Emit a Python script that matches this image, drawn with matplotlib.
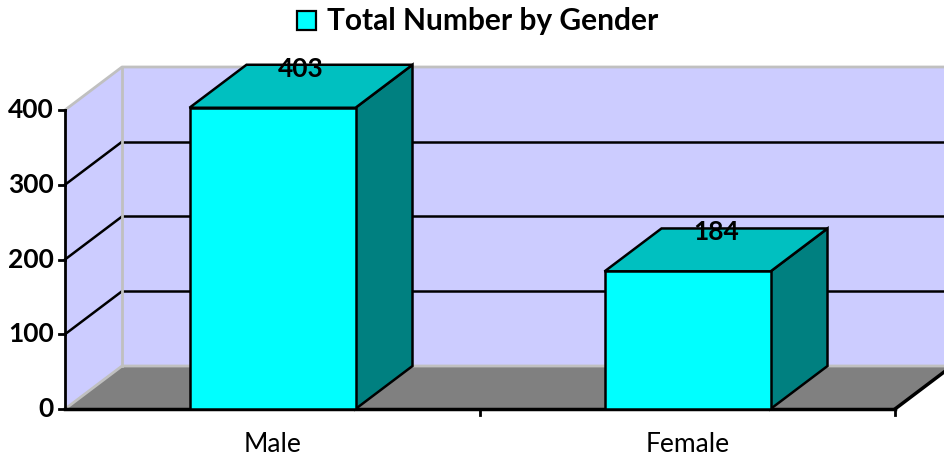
import matplotlib
matplotlib.use("Agg")
import matplotlib.pyplot as plt
from matplotlib.patches import Polygon, Rectangle

plt.rcParams['font.family'] = ['Lato', 'DejaVu Sans']

categories = ["Male", "Female"]
values = [403, 184]
yticks = [0, 100, 200, 300, 400]
title = "Total Number by Gender"

# colours
FRONT = "#00FFFF"
TOP = "#00C0C0"
SIDE = "#008080"
WALL = "#CCCCFF"
FLOOR = "#808080"
EDGE_GRAY = "#C0C0C0"

fig = plt.figure(figsize=(9.45, 4.57), dpi=100)
ax = fig.add_axes([0, 0, 1, 1])
ax.set_axis_off()

px_per_cat = 415.0
px_per_val = 0.7475
x_left_px = 65.0
y0_px = 409.0
W, H = 945.0, 457.0
x0 = -0.5
x1 = x0 + len(categories)
ax.set_xlim(x0 - x_left_px / px_per_cat, x0 + (W - x_left_px) / px_per_cat)
ax.set_ylim(-(H - y0_px) / px_per_val, y0_px / px_per_val)

dx = 57 / px_per_cat
dy = 43 / px_per_val
ymax = yticks[-1]

# walls and floor
ax.add_patch(Polygon([(x0 + dx, dy), (x1 + dx, dy), (x1 + dx, ymax + dy), (x0 + dx, ymax + dy)],
                     closed=True, facecolor=WALL, edgecolor='none', zorder=1))
ax.add_patch(Polygon([(x0, 0), (x0 + dx, dy), (x0 + dx, ymax + dy), (x0, ymax)],
                     closed=True, facecolor=WALL, edgecolor='none', zorder=1))
ax.add_patch(Polygon([(x0, 0), (x1, 0), (x1 + dx, dy), (x0 + dx, dy)],
                     closed=True, facecolor=FLOOR, edgecolor='none', zorder=1))

# gridlines
for v in yticks[1:-1]:
    ax.plot([x0 + dx, x1 + dx], [v + dy, v + dy], color='black', lw=1.8, zorder=2)
    ax.plot([x0, x0 + dx], [v, v + dy], color='black', lw=1.8, zorder=2)

# gray wall edges
ax.plot([x0, x0 + dx, x1 + dx], [ymax, ymax + dy, ymax + dy], color=EDGE_GRAY, lw=2, zorder=2)
ax.plot([x0 + dx, x0 + dx], [dy, ymax + dy], color=EDGE_GRAY, lw=2, zorder=2)
ax.plot([x0, x0 + dx, x1 + dx], [0, dy, dy], color=EDGE_GRAY, lw=2, zorder=2)

# axes lines
ax.plot([x0, x0], [0, ymax], color='black', lw=2, zorder=3)
ax.plot([x0, x1], [0, 0], color='black', lw=2.5, zorder=3)
ax.plot([x1, x1 + dx], [0, dy], color='black', lw=2.5, zorder=3)
tick_len_x = 6 / px_per_cat
for v in yticks:
    ax.plot([x0 - tick_len_x, x0], [v, v], color='black', lw=2, zorder=3)
    ax.text(x0 - 11 / px_per_cat, v, str(v), ha='right', va='center',
            fontsize=19, fontweight='bold', zorder=5)
tick_len_y = 6 / px_per_val
for i in range(len(categories)):
    xb = x0 + i + 1
    ax.plot([xb, xb], [0, -tick_len_y], color='black', lw=2, zorder=3)

# bars
bw = 0.40
for i, (c, v) in enumerate(zip(categories, values)):
    l, r = i - bw / 2, i + bw / 2
    ax.add_patch(Polygon([(r, 0), (r + dx, dy), (r + dx, v + dy), (r, v)],
                         closed=True, facecolor=SIDE, edgecolor='black', lw=1.8, zorder=4))
    ax.add_patch(Polygon([(l, v), (r, v), (r + dx, v + dy), (l + dx, v + dy)],
                         closed=True, facecolor=TOP, edgecolor='black', lw=1.8, zorder=4))
    ax.add_patch(Polygon([(l, 0), (r, 0), (r, v), (l, v)],
                         closed=True, facecolor=FRONT, edgecolor='black', lw=1.8, zorder=4))
    ax.text(i + dx / 2, v + dy - 4 / px_per_val, str(v), ha='center', va='center',
            fontsize=19, fontweight='bold', zorder=6)
    ax.text(i, -35 / px_per_val, c, ha='center', va='center',
            fontsize=19, zorder=6)

# title with legend key
fig.patches.append(Rectangle((297 / W, 1 - 30 / H), 19 / W, 19 / H, transform=fig.transFigure,
                             facecolor=FRONT, edgecolor='black', lw=1.6, figure=fig))
fig.text(327 / W, 1 - 21 / H, title, ha='left', va='center', fontsize=21.5, fontweight='bold')

fig.savefig("out.png", dpi=100)
